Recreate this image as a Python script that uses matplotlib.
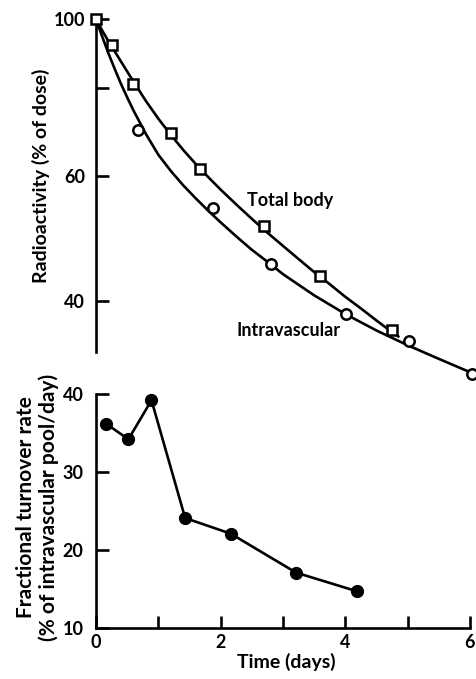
import matplotlib
matplotlib.use("Agg")
import matplotlib.pyplot as plt
from matplotlib.ticker import NullLocator

plt.rcParams["font.family"] = ["Lato", "DejaVu Sans"]
plt.rcParams["font.weight"] = "bold"
plt.rcParams["axes.labelweight"] = "bold"

# ---- top panel: radioactivity (% of dose), log scale ----
total_t = [0, 0.25, 0.6, 1.2, 1.675, 2.7, 3.6, 4.75]
total_y = [100, 91.9, 80.9, 69.0, 61.3, 51.0, 43.4, 36.4]

intra_t = [0.67, 1.88, 2.8, 4.01, 5.02, 6.04]
intra_y = [69.7, 54.0, 45.1, 38.3, 35.1, 31.5]

# fitted curves
total_curve_t = [0, 0.1, 0.2, 0.3, 0.4, 0.5, 0.6, 0.8, 1.0, 1.2, 1.4, 1.6, 1.8,
                 2.0, 2.25, 2.5, 2.75, 3.0, 3.25, 3.5, 3.75, 4.0, 4.25, 4.5,
                 4.75, 4.85]
total_curve_y = [100, 96.3, 93.0, 90.0, 87.1, 84.3, 81.6, 76.6, 72.3, 68.6,
                 65.3, 62.4, 59.8, 57.4, 54.7, 52.2, 49.9, 47.8, 45.8, 43.9,
                 42.2, 40.5, 39.0, 37.5, 36.1, 35.6]

intra_curve_t = [0, 0.1, 0.2, 0.3, 0.4, 0.5, 0.6, 0.8, 1.0, 1.2, 1.4, 1.6, 1.8,
                 2.0, 2.25, 2.5, 2.75, 3.0, 3.5, 4.0, 4.5, 5.0, 5.5, 6.0, 6.05]
intra_curve_y = [100, 94.4, 89.4, 85.0, 81.0, 77.5, 74.3, 68.8, 64.3, 61.0,
                 58.2, 55.8, 53.6, 51.6, 49.3, 47.2, 45.4, 43.6, 40.7, 38.3,
                 36.3, 34.6, 33.1, 31.7, 31.5]

# ---- bottom panel: fractional turnover rate ----
rate_t = [0.16, 0.52, 0.89, 1.43, 2.16, 3.21, 4.19]
rate_y = [36.2, 34.2, 39.2, 24.1, 22.1, 17.1, 14.7]

top_ticks = [40, 60, 80, 100]
top_ticklabels = ["40", "60", "", "100"]
x_ticks = [0, 1, 2, 3, 4, 5, 6]
x_ticklabels = ["0", "", "2", "", "4", "", "6"]
rate_ticks = [10, 20, 30, 40]

LW = 1.9
FS = 13

fig = plt.figure(figsize=(4.77, 6.79), dpi=100)

ax1 = fig.add_axes([0.2013, 0.4418, 0.784, 0.5302])
ax1.plot(total_curve_t, total_curve_y, color="black", lw=LW, clip_on=False)
ax1.plot(intra_curve_t, intra_curve_y, color="black", lw=LW, clip_on=False)
ax1.plot(total_t, total_y, linestyle="none", marker="s", ms=7.5, mfc="white",
         mec="black", mew=1.8, clip_on=False, zorder=3)
ax1.plot(intra_t, intra_y, linestyle="none", marker="o", ms=7.5, mfc="white",
         mec="black", mew=1.8, clip_on=False, zorder=3)
ax1.set_yscale("log")
ax1.set_xlim(0, 6)
ax1.set_ylim(31, 100)
ax1.yaxis.set_minor_locator(NullLocator())
ax1.set_yticks(top_ticks)
ax1.set_yticklabels(top_ticklabels, fontweight="bold")
ax1.set_xticks([])
for s in ["top", "right", "bottom"]:
    ax1.spines[s].set_visible(False)
ax1.spines["left"].set_linewidth(LW)
ax1.spines["left"].set_bounds(33.85, 100)
ax1.tick_params(axis="y", direction="in", length=9, width=LW, pad=8,
                labelsize=FS)
ax1.set_ylabel("Radioactivity (% of dose)", fontsize=14)
ax1.yaxis.set_label_coords(-0.123, 0.564)
ax1.text(2.42, 54.4, "Total body", fontsize=FS)
ax1.text(2.26, 35.6, "Intravascular", fontsize=FS)

ax2 = fig.add_axes([0.2013, 0.0751, 0.784, 0.3446])
ax2.plot(rate_t, rate_y, color="black", lw=LW, marker="o", ms=8.5,
         mfc="black", mec="black", clip_on=False)
ax2.set_xlim(0, 6)
ax2.set_ylim(10, 40)
ax2.set_xticks(x_ticks)
ax2.set_xticklabels(x_ticklabels, fontweight="bold")
ax2.set_yticks(rate_ticks)
ax2.set_yticklabels([str(v) for v in rate_ticks], fontweight="bold")
for s in ["top", "right"]:
    ax2.spines[s].set_visible(False)
for s in ["left", "bottom"]:
    ax2.spines[s].set_linewidth(LW)
ax2.tick_params(direction="in", length=9, width=LW, labelsize=FS)
ax2.tick_params(axis="y", pad=9)
ax2.tick_params(axis="x", pad=4)
ax2.set_xlabel("Time (days)", fontsize=14)
ax2.xaxis.set_label_coords(0.509, -0.107)
ax2.set_ylabel("Fractional turnover rate\n(% of intravascular pool/day)",
               fontsize=15, linespacing=1.15)
ax2.yaxis.set_label_coords(-0.098, 0.517)

fig.savefig("out.png", dpi=100)
